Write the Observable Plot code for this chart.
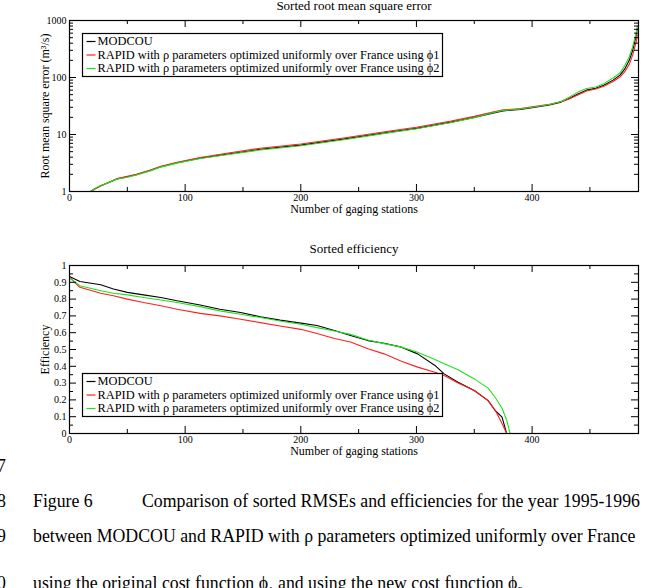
<!DOCTYPE html>
<html>
<head>
<meta charset="utf-8">
<script src="https://cdn.jsdelivr.net/npm/d3@7"></script>
<script src="https://cdn.jsdelivr.net/npm/@observablehq/plot@0.6"></script>
<style>
  body { margin: 0; background: #fff; }
  #page { position: relative; width: 645px; height: 588px; overflow: hidden; background: #fff;
          font-family: "Liberation Serif", "Times New Roman", serif; color: #000; }
  #rmse { position: absolute; left: 0; top: 0; }
  #eff { position: absolute; left: 0; top: 225px; }
  .cap { position: absolute; font-size: 17.8px; line-height: 20px; white-space: nowrap; }
</style>
</head>
<body>
<div id="page">
  <div id="rmse"></div>
  <div id="eff"></div>
  <div class="cap" style="left:-3px; top:456px;">7</div>
  <div class="cap" style="left:-3px; top:491px;">8</div>
  <div class="cap" style="left:33px; top:491px;">Figure 6</div>
  <div class="cap" style="left:142px; top:491px;">Comparison of sorted RMSEs and efficiencies for the year 1995-1996</div>
  <div class="cap" style="left:-3px; top:526px;">9</div>
  <div class="cap" style="left:33px; top:526px;">between MODCOU and RAPID with ρ parameters optimized uniformly over France</div>
  <div class="cap" style="left:-3px; top:573px;">0</div>
  <div class="cap" style="left:33px; top:573px;">using the original cost function ϕ<sub style="font-size:11px">1</sub> and using the new cost function ϕ<sub style="font-size:11px">2</sub></div>
</div>
<script>
// Series names and colours
const seriesNames = ["MODCOU",
  "RAPID with ρ parameters optimized uniformly over France using ϕ1",
  "RAPID with ρ parameters optimized uniformly over France using ϕ2"];
const seriesColors = ["#000000", "#ff2020", "#20e020"];

// Sorted root mean square error (m3/s) by station rank
const rmseStations = [1, 10, 18, 22, 27, 35, 41, 50, 58, 70, 79, 93, 113, 136, 165, 200, 237, 277, 300, 330,
  350, 365, 375, 390, 400, 415, 425, 432, 440, 447, 455, 462, 470, 476, 480, 484, 487, 490, 491];
const rmseModcou = [0.35, 0.75, 1.0, 1.12, 1.26, 1.47, 1.66, 1.82, 1.98, 2.35, 2.72, 3.2, 3.85, 4.5, 5.5, 6.5,
  8.3, 11, 12.8, 16.5, 20, 23.5, 26, 27.5, 29.5, 33, 37, 43, 52, 60, 65, 73, 90, 110, 140, 200, 300, 550, 720];
const rmsePhi1 = [0.33, 0.72, 0.98, 1.1, 1.25, 1.48, 1.68, 1.85, 2.0, 2.38, 2.78, 3.25, 3.95, 4.7, 5.75, 6.8,
  8.7, 11.5, 13.4, 17.2, 20.8, 24.5, 27, 28.5, 30.5, 34, 37.5, 42, 50, 58, 63, 70, 85, 102, 125, 170, 250, 420, 560];
const rmsePhi2 = [0.36, 0.76, 1.0, 1.13, 1.27, 1.46, 1.64, 1.78, 1.95, 2.3, 2.68, 3.15, 3.8, 4.4, 5.35, 6.35,
  8.1, 10.8, 12.6, 16.2, 19.8, 23.8, 26.5, 28, 30, 33.5, 38, 45, 56, 64, 68, 78, 98, 120, 160, 230, 350, 600, 800];

// Sorted efficiency by station rank
const effStations = [0, 9, 27, 38, 50, 64, 79, 93, 113, 130, 148, 165, 182, 200, 214, 229, 243, 258, 272, 287,
  301, 316, 324, 336, 350, 362, 368, 374, 378, 381];
const effModcou = [0.935, 0.905, 0.885, 0.86, 0.84, 0.825, 0.81, 0.79, 0.765, 0.74, 0.72, 0.695, 0.675, 0.657,
  0.643, 0.613, 0.583, 0.553, 0.537, 0.514, 0.474, 0.405, 0.355, 0.305, 0.256, 0.196, 0.137, 0.097, 0.0, -0.1];
const effPhi1 = [0.93, 0.87, 0.835, 0.82, 0.80, 0.78, 0.76, 0.74, 0.715, 0.70, 0.68, 0.66, 0.64, 0.62,
  0.595, 0.565, 0.545, 0.505, 0.474, 0.43, 0.395, 0.365, 0.345, 0.30, 0.256, 0.196, 0.14, 0.06, 0.0, -0.1];
const effPhi2 = [0.925, 0.88, 0.85, 0.835, 0.825, 0.81, 0.795, 0.78, 0.755, 0.73, 0.71, 0.69, 0.67, 0.65,
  0.63, 0.61, 0.59, 0.557, 0.535, 0.514, 0.484, 0.44, 0.415, 0.38, 0.325, 0.27, 0.216, 0.15, 0.08, 0.0];

// Axis ticks
const stationTicks = [0, 100, 200, 300, 400];
const stationMinorTicks = [50, 150, 250, 350, 450];
const rmseTicks = [1, 10, 100, 1000];
const effTicks = [0, 0.1, 0.2, 0.3, 0.4, 0.5, 0.6, 0.7, 0.8, 0.9, 1];
const effMinorTicks = [0.05, 0.15, 0.25, 0.35, 0.45, 0.55, 0.65, 0.75, 0.85, 0.95];

const xMax = 492;
const W = 645, ML = 69, MR = 7;
const font = "'Liberation Serif', 'Times New Roman', serif";

function rows(xs, ...cols) {
  const out = [];
  cols.forEach((ys, k) => xs.forEach((x, i) => out.push({station: x, value: ys[i], series: seriesNames[k]})));
  return out;
}

// Legend box drawn with frame insets (pixel offsets from the plot frame)
function legend(frameW, frameH, boxTop) {
  const left = 13, boxW = 360, boxH = 43, rowGap = 13.5;
  const marks = [
    Plot.frame({fill: "white", stroke: "black", strokeWidth: 1.2,
      insetLeft: left, insetRight: frameW - left - boxW, insetTop: boxTop, insetBottom: frameH - boxTop - boxH})
  ];
  seriesNames.forEach((name, i) => {
    const cy = boxTop + 8 + i * rowGap;
    marks.push(Plot.frame({fill: seriesColors[i], stroke: null,
      insetLeft: left + 4, insetRight: frameW - left - 13, insetTop: cy - 0.6, insetBottom: frameH - cy - 0.6}));
    marks.push(Plot.text([name], {frameAnchor: "top-left", dx: left + 15, dy: cy, text: d => d,
      fontSize: 12.4, textAnchor: "start", lineAnchor: "middle", fill: "black"}));
  });
  return marks;
}

// ---- Sorted root mean square error ----
{
  const H = 225, MT = 20, MB = 34;
  const frameW = W - ML - MR, frameH = H - MT - MB;
  const pxPerDecade = frameH / 3;
  const logUp = px => Math.pow(10, px / pxPerDecade);
  const xLen = px => px * xMax / frameW;
  const minorLog = [];
  for (const e of [1, 10, 100]) for (let k = 2; k <= 9; k++) minorLog.push(k * e);
  const data = rows(rmseStations, rmseModcou, rmsePhi1, rmsePhi2);

  const chart = Plot.plot({
    width: W, height: H, marginLeft: ML, marginRight: MR, marginTop: MT, marginBottom: MB,
    style: {fontFamily: font, fontSize: "10px", background: "white", color: "black"},
    x: {domain: [0, xMax]},
    y: {type: "log", domain: [1, 1000]},
    color: {domain: seriesNames, range: seriesColors},
    marks: [
      Plot.line(data, {x: "station", y: "value", z: "series", stroke: "series", strokeWidth: 1.1, clip: true}),
      // inward ticks on all four sides
      Plot.ruleX(stationTicks, {x: d => d, y1: 1, y2: logUp(7), stroke: "black"}),
      Plot.ruleX(stationMinorTicks, {x: d => d, y1: 1, y2: logUp(4), stroke: "black"}),
      Plot.ruleX(stationTicks, {x: d => d, y1: 1000 / logUp(7), y2: 1000, stroke: "black"}),
      Plot.ruleX(stationMinorTicks, {x: d => d, y1: 1000 / logUp(4), y2: 1000, stroke: "black"}),
      Plot.ruleY(rmseTicks, {y: d => d, x1: 0, x2: xLen(7), stroke: "black"}),
      Plot.ruleY(minorLog, {y: d => d, x1: 0, x2: xLen(4), stroke: "black"}),
      Plot.ruleY(rmseTicks, {y: d => d, x1: xMax - xLen(7), x2: xMax, stroke: "black"}),
      Plot.ruleY(minorLog, {y: d => d, x1: xMax - xLen(4), x2: xMax, stroke: "black"}),
      Plot.frame({stroke: "black", strokeWidth: 1.2}),
      Plot.axisX({ticks: stationTicks, tickSize: 0, tickPadding: 2, label: null}),
      Plot.axisY({ticks: rmseTicks, tickFormat: d => String(d), tickSize: 0, tickPadding: 3, label: null}),
      ...legend(frameW, frameH, 13),
      Plot.text(["Sorted root mean square error"], {frameAnchor: "top", dy: -20, fontSize: 13, fill: "black"}),
      Plot.text(["Number of gaging stations"], {frameAnchor: "bottom", dy: 21, fontSize: 12, fill: "black"}),
      Plot.text(["Root mean square error (m³/s)"], {frameAnchor: "left", dx: -24, rotate: -90, fontSize: 12,
        textAnchor: "middle", fill: "black"})
    ]
  });
  document.getElementById("rmse").append(chart);
}

// ---- Sorted efficiency ----
{
  const H = 235, MT = 40, MB = 27;
  const frameW = W - ML - MR, frameH = H - MT - MB;
  const yLen = px => px / frameH;
  const xLen = px => px * xMax / frameW;
  const data = rows(effStations, effModcou, effPhi1, effPhi2);

  const chart = Plot.plot({
    width: W, height: H, marginLeft: ML, marginRight: MR, marginTop: MT, marginBottom: MB,
    style: {fontFamily: font, fontSize: "10px", background: "white", color: "black"},
    x: {domain: [0, xMax]},
    y: {domain: [0, 1]},
    color: {domain: seriesNames, range: seriesColors},
    marks: [
      Plot.line(data, {x: "station", y: "value", z: "series", stroke: "series", strokeWidth: 1.1, clip: true}),
      Plot.ruleX(stationTicks, {x: d => d, y1: 0, y2: yLen(7), stroke: "black"}),
      Plot.ruleX(stationMinorTicks, {x: d => d, y1: 0, y2: yLen(4), stroke: "black"}),
      Plot.ruleX(stationTicks, {x: d => d, y1: 1 - yLen(7), y2: 1, stroke: "black"}),
      Plot.ruleX(stationMinorTicks, {x: d => d, y1: 1 - yLen(4), y2: 1, stroke: "black"}),
      Plot.ruleY(effTicks, {y: d => d, x1: 0, x2: xLen(7), stroke: "black"}),
      Plot.ruleY(effMinorTicks, {y: d => d, x1: 0, x2: xLen(4), stroke: "black"}),
      Plot.ruleY(effTicks, {y: d => d, x1: xMax - xLen(7), x2: xMax, stroke: "black"}),
      Plot.ruleY(effMinorTicks, {y: d => d, x1: xMax - xLen(4), x2: xMax, stroke: "black"}),
      Plot.frame({stroke: "black", strokeWidth: 1.2}),
      Plot.axisX({ticks: stationTicks, tickSize: 0, tickPadding: 2, label: null}),
      Plot.axisY({ticks: effTicks, tickFormat: d => (d === 0 || d === 1) ? String(d) : d.toFixed(1),
        tickSize: 0, tickPadding: 3, label: null}),
      ...legend(frameW, frameH, 108),
      Plot.text(["Sorted efficiency"], {frameAnchor: "top", dy: -22, fontSize: 13, fill: "black"}),
      Plot.text(["Number of gaging stations"], {frameAnchor: "bottom", dy: 21, fontSize: 12, fill: "black"}),
      Plot.text(["Efficiency"], {frameAnchor: "left", dx: -24, rotate: -90, fontSize: 12,
        textAnchor: "middle", fill: "black"})
    ]
  });
  document.getElementById("eff").append(chart);
}
</script>
</body>
</html>
